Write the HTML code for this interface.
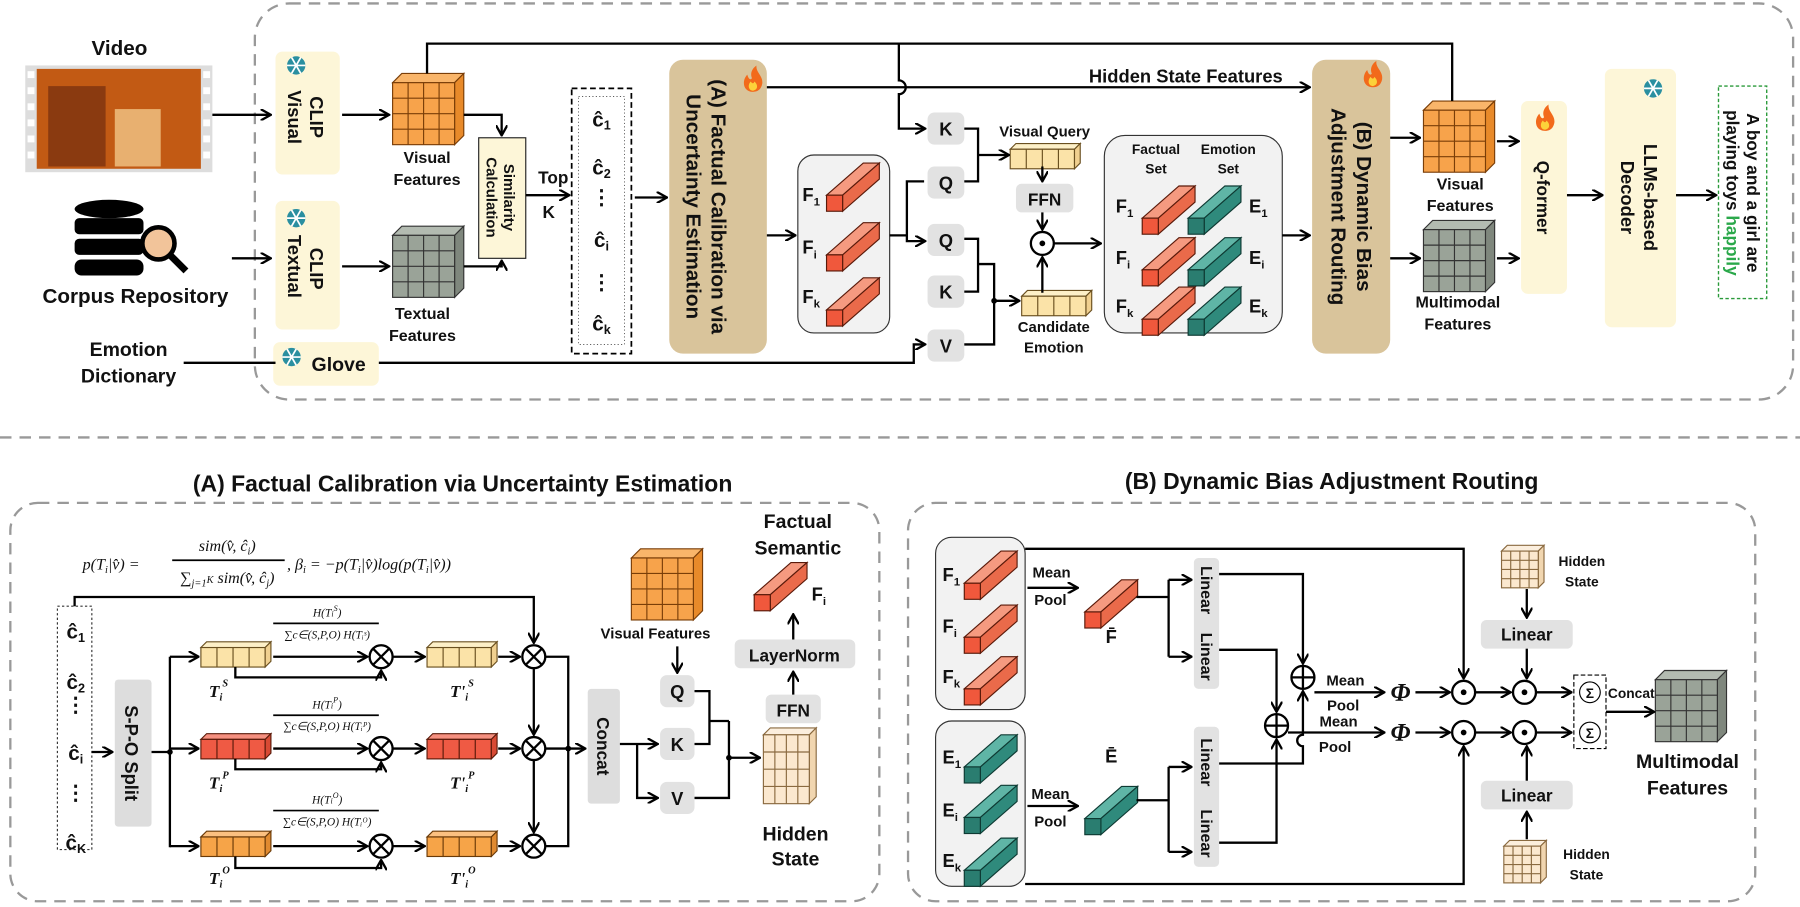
<!DOCTYPE html>
<html><head><meta charset="utf-8"><style>
html,body{margin:0;padding:0;background:#fff;}
svg{display:block;}
text{font-family:"Liberation Sans",sans-serif;font-weight:bold;fill:#111;}
.s{font-family:"Liberation Serif",serif;font-style:italic;font-weight:normal;}
</style></head><body>
<svg width="1800" height="907" viewBox="0 0 1568 790" preserveAspectRatio="none" xmlns="http://www.w3.org/2000/svg">
<defs>
<marker id="a" markerWidth="10" markerHeight="10" refX="8" refY="5" orient="auto" markerUnits="userSpaceOnUse"><path d="M0,0 L9,5 L0,10" fill="none" stroke="#000" stroke-width="2"/></marker>
<g id="cubeO"><polygon points="0,0 8,-8 62,-8 54,0" fill="#f9b56a" stroke="#7a3e08"/><polygon points="54,0 62,-8 62,46 54,54" fill="#e88a2a" stroke="#7a3e08"/><rect x="0" y="0" width="54" height="54" fill="#f7a34b" stroke="#7a3e08"/><path d="M13.5,0V54M27,0V54M40.5,0V54M0,13.5H54M0,27H54M0,40.5H54" stroke="#7a3e08"/></g>
<g id="cubeG"><polygon points="0,0 8,-8 62,-8 54,0" fill="#b3bbb1" stroke="#333"/><polygon points="54,0 62,-8 62,46 54,54" fill="#7f877d" stroke="#333"/><rect x="0" y="0" width="54" height="54" fill="#9aa398" stroke="#333"/><path d="M13.5,0V54M27,0V54M40.5,0V54M0,13.5H54M0,27H54M0,40.5H54" stroke="#333"/></g>
<g id="cubeB"><polygon points="0,0 6,-6 46,-6 40,0" fill="#fbeedd" stroke="#8a6a40"/><polygon points="40,0 46,-6 46,54 40,60" fill="#f1d6b0" stroke="#8a6a40"/><rect x="0" y="0" width="40" height="60" fill="#fbe8cf" stroke="#8a6a40"/><path d="M10,0V60M20,0V60M30,0V60M0,15H40M0,30H40M0,45H40" stroke="#8a6a40"/></g>
<g id="cubeS"><polygon points="0,0 5,-5 37,-5 32,0" fill="#fbeedd" stroke="#8a6a40"/><polygon points="32,0 37,-5 37,27 32,32" fill="#f1d6b0" stroke="#8a6a40"/><rect x="0" y="0" width="32" height="32" fill="#fbe8cf" stroke="#8a6a40"/><path d="M8,0V32M16,0V32M24,0V32M0,8H32M0,16H32M0,24H32" stroke="#8a6a40"/></g>
<g id="barR"><polygon points="0,0 32,-28 46,-28 14,0" fill="#f59a80" stroke="#5a1a0a"/><polygon points="14,0 46,-28 46,-14 14,14" fill="#ea6a4a" stroke="#5a1a0a"/><rect x="0" y="0" width="14" height="14" fill="#f0583c" stroke="#5a1a0a"/></g>
<g id="barT"><polygon points="0,0 32,-28 46,-28 14,0" fill="#5fb5a6" stroke="#0e3a33"/><polygon points="14,0 46,-28 46,-14 14,14" fill="#2f8a7c" stroke="#0e3a33"/><rect x="0" y="0" width="14" height="14" fill="#2a7d70" stroke="#0e3a33"/></g>
<g id="fY"><polygon points="0,0 5,-5 61,-5 56,0" fill="#fdf0c8" stroke="#6a5020"/><rect x="0" y="0" width="56" height="17" fill="#fbe3a8" stroke="#6a5020"/><path d="M14,0V17M28,0V17M42,0V17" stroke="#6a5020"/><polygon points="56,0 61,-5 61,12 56,17" fill="#f0d090" stroke="#6a5020"/></g>
<g id="fR"><polygon points="0,0 5,-5 61,-5 56,0" fill="#f59080" stroke="#5a1a0a"/><rect x="0" y="0" width="56" height="17" fill="#ef5a44" stroke="#5a1a0a"/><path d="M14,0V17M28,0V17M42,0V17" stroke="#5a1a0a"/><polygon points="56,0 61,-5 61,12 56,17" fill="#d84a34" stroke="#5a1a0a"/></g>
<g id="fO"><polygon points="0,0 5,-5 61,-5 56,0" fill="#fbc080" stroke="#6a3a08"/><rect x="0" y="0" width="56" height="17" fill="#f6a448" stroke="#6a3a08"/><path d="M14,0V17M28,0V17M42,0V17" stroke="#6a3a08"/><polygon points="56,0 61,-5 61,12 56,17" fill="#e08a30" stroke="#6a3a08"/></g>
<g id="ot"><circle r="10" fill="#fff" stroke="#000" stroke-width="2"/><path d="M-7,-7L7,7M7,-7L-7,7" stroke="#000" stroke-width="2"/></g>
<g id="op"><circle r="10" fill="#fff" stroke="#000" stroke-width="2"/><path d="M-10,0H10M0,-10V10" stroke="#000" stroke-width="2"/></g>
<g id="od"><circle r="10" fill="#fff" stroke="#000" stroke-width="2"/><circle r="2.5" fill="#000"/></g>
<g id="snow"><circle r="8" fill="#2a8fa0"/><path d="M-8,0H8M-4,-7L4,7M4,-7L-4,7" stroke="#fff" stroke-width="1.5"/></g>
<g id="fire"><path d="M0,10 C-9,10 -10,0 -5,-5 C-4,-1 -2,0 -1,-2 C-3,-7 0,-11 3,-13 C2,-7 9,-4 8,3 C7,8 4,10 0,10Z" fill="#f26a1b"/><path d="M0,9 C-4,9 -5,4 -2,1 C-1,3 1,3 1,1 C4,3 5,8 0,9Z" fill="#fcd23a"/></g>
</defs>
<g fill="none" stroke="#999" stroke-width="2" stroke-dasharray="10,7">
<rect x="222" y="3" width="1340" height="345" rx="30"/>
<path d="M0,381H1568"/>
<rect x="9" y="438" width="757" height="347" rx="24"/>
<rect x="791" y="438" width="738" height="347" rx="24"/>
</g>
<text x="403" y="428" font-size="20" text-anchor="middle">(A) Factual Calibration via Uncertainty Estimation</text>
<text x="1160" y="426" font-size="20" text-anchor="middle">(B) Dynamic Bias Adjustment Routing</text>

<!-- TOP -->
<text x="104" y="48" font-size="18" text-anchor="middle">Video</text>
<rect x="22" y="57" width="163" height="93" fill="#ddd"/>
<rect x="32" y="60" width="143" height="87" fill="#c25a14"/>
<rect x="42" y="75" width="50" height="70" fill="#8a3a10"/><rect x="100" y="95" width="40" height="50" fill="#e8b070"/>
<g fill="#fff"><rect x="24" y="62" width="6" height="6"/><rect x="24" y="76" width="6" height="6"/><rect x="24" y="90" width="6" height="6"/><rect x="24" y="104" width="6" height="6"/><rect x="24" y="118" width="6" height="6"/><rect x="24" y="132" width="6" height="6"/><rect x="177" y="62" width="6" height="6"/><rect x="177" y="76" width="6" height="6"/><rect x="177" y="90" width="6" height="6"/><rect x="177" y="104" width="6" height="6"/><rect x="177" y="118" width="6" height="6"/><rect x="177" y="132" width="6" height="6"/></g>
<g fill="#000"><ellipse cx="95" cy="182" rx="30" ry="8"/><rect x="65" y="190" width="60" height="14" rx="4"/><rect x="65" y="208" width="60" height="14" rx="4"/><rect x="65" y="226" width="60" height="14" rx="6"/></g>
<circle cx="138" cy="212" r="14" fill="#f2c49a" stroke="#000" stroke-width="4"/><path d="M148,222L162,236" stroke="#000" stroke-width="6"/>
<text x="118" y="264" font-size="18" text-anchor="middle">Corpus Repository</text>
<text x="112" y="310" font-size="17" text-anchor="middle">Emotion</text>
<text x="112" y="333" font-size="17" text-anchor="middle">Dictionary</text>

<g fill="#fdf6d8"><rect x="240" y="45" width="56" height="107" rx="6"/><rect x="240" y="175" width="56" height="112" rx="6"/><rect x="238" y="298" width="92" height="38" rx="6"/><rect x="1325" y="88" width="40" height="168" rx="6"/><rect x="1398" y="60" width="62" height="225" rx="6"/></g>
<use href="#snow" x="258" y="57"/><use href="#snow" x="258" y="190"/><use href="#snow" x="254" y="311"/><use href="#snow" x="1440" y="77"/>
<text transform="translate(270,102) rotate(90)" font-size="16" text-anchor="middle">CLIP</text>
<text transform="translate(251,102) rotate(90)" font-size="16" text-anchor="middle">Visual</text>
<text transform="translate(270,234) rotate(90)" font-size="16" text-anchor="middle">CLIP</text>
<text transform="translate(251,232) rotate(90)" font-size="16" text-anchor="middle">Textual</text>
<text x="295" y="323" font-size="17" text-anchor="middle">Glove</text>

<use href="#cubeO" x="342" y="72"/>
<text x="372" y="142" font-size="14" text-anchor="middle">Visual</text><text x="372" y="161" font-size="14" text-anchor="middle">Features</text>
<use href="#cubeG" x="342" y="205"/>
<text x="368" y="278" font-size="14" text-anchor="middle">Textual</text><text x="368" y="297" font-size="14" text-anchor="middle">Features</text>
<rect x="417" y="120" width="41" height="105" fill="#fdf6d8" stroke="#222"/>
<text transform="translate(439,172) rotate(90)" font-size="13" text-anchor="middle">Similarity</text>
<text transform="translate(424,172) rotate(90)" font-size="13" text-anchor="middle">Calculation</text>
<text x="482" y="160" font-size="15" text-anchor="middle">Top</text><text x="478" y="190" font-size="15" text-anchor="middle">K</text>
<rect x="498" y="77" width="52" height="231" fill="none" stroke="#000" stroke-width="1.5" stroke-dasharray="5,3"/>
<rect x="504" y="84" width="40" height="216" fill="none" stroke="#444" stroke-width="0.7" stroke-dasharray="1,2"/>
<g font-size="18" text-anchor="middle"><text x="524" y="110">ĉ<tspan font-size="11" dy="3">1</tspan></text><text x="524" y="152">ĉ<tspan font-size="11" dy="3">2</tspan></text><text x="524" y="178">⋮</text><text x="524" y="215">ĉ<tspan font-size="11" dy="3">i</tspan></text><text x="524" y="252">⋮</text><text x="524" y="288">ĉ<tspan font-size="11" dy="3">k</tspan></text></g>

<g fill="#d9c49b"><rect x="583" y="52" width="85" height="256" rx="12"/><rect x="1143" y="52" width="68" height="256" rx="12"/></g>
<use href="#fire" x="656" y="70"/><use href="#fire" x="1196" y="66"/><use href="#fire" x="1346" y="104"/>
<text transform="translate(620,180) rotate(90)" font-size="18" text-anchor="middle">(A) Factual Calibration via</text>
<text transform="translate(598,180) rotate(90)" font-size="18" text-anchor="middle">Uncertainty Estimation</text>
<text transform="translate(1182,180) rotate(90)" font-size="18" text-anchor="middle">(B) Dynamic Bias</text>
<text transform="translate(1160,180) rotate(90)" font-size="18" text-anchor="middle">Adjustment Routing</text>
<text transform="translate(1339,172) rotate(90)" font-size="15" text-anchor="middle">Q-former</text>
<text transform="translate(1432,172) rotate(90)" font-size="16" text-anchor="middle">LLMs-based</text>
<text transform="translate(1412,172) rotate(90)" font-size="16" text-anchor="middle">Decoder</text>
<rect x="1497" y="75" width="42" height="185" fill="none" stroke="#2a9a3a" stroke-width="1.2" stroke-dasharray="3,2"/>
<text transform="translate(1522,168) rotate(90)" font-size="15" text-anchor="middle">A boy and a girl are</text>
<text transform="translate(1504,168) rotate(90)" font-size="15" text-anchor="middle">playing toys <tspan fill="#2aa84a">happily</tspan></text>

<rect x="695" y="135" width="80" height="155" rx="14" fill="#f2f2f2" stroke="#333"/>
<use href="#barR" x="720" y="170"/><use href="#barR" x="720" y="222"/><use href="#barR" x="720" y="270"/>
<g font-size="16"><text x="699" y="175">F<tspan font-size="10" dy="4">1</tspan></text><text x="699" y="221">F<tspan font-size="10" dy="4">i</tspan></text><text x="699" y="264">F<tspan font-size="10" dy="4">k</tspan></text></g>

<g fill="#e2e2e2"><rect x="808" y="98" width="32" height="28" rx="6"/><rect x="808" y="145" width="32" height="28" rx="6"/><rect x="808" y="195" width="32" height="28" rx="6"/><rect x="808" y="240" width="32" height="28" rx="6"/><rect x="808" y="287" width="32" height="28" rx="6"/><rect x="885" y="160" width="50" height="25" rx="5"/></g>
<g font-size="16" text-anchor="middle"><text x="824" y="118">K</text><text x="824" y="165">Q</text><text x="824" y="215">Q</text><text x="824" y="260">K</text><text x="824" y="307">V</text><text x="910" y="179" font-size="15">FFN</text></g>
<text x="910" y="119" font-size="13" text-anchor="middle">Visual Query</text>
<use href="#fY" x="880" y="130"/>
<use href="#fY" x="890" y="258"/>
<text x="918" y="289" font-size="13" text-anchor="middle">Candidate</text><text x="918" y="307" font-size="13" text-anchor="middle">Emotion</text>
<use href="#od" x="908" y="212"/>

<rect x="962" y="118" width="155" height="172" rx="18" fill="#f2f2f2" stroke="#333"/>
<text x="1007" y="134" font-size="12" text-anchor="middle">Factual</text><text x="1007" y="151" font-size="12" text-anchor="middle">Set</text>
<text x="1070" y="134" font-size="12" text-anchor="middle">Emotion</text><text x="1070" y="151" font-size="12" text-anchor="middle">Set</text>
<use href="#barR" x="995" y="190"/><use href="#barT" x="1035" y="190"/><use href="#barR" x="995" y="235"/><use href="#barT" x="1035" y="235"/><use href="#barR" x="995" y="278"/><use href="#barT" x="1035" y="278"/>
<g font-size="16"><text x="972" y="185">F<tspan font-size="10" dy="4">1</tspan></text><text x="972" y="230">F<tspan font-size="10" dy="4">i</tspan></text><text x="972" y="272">F<tspan font-size="10" dy="4">k</tspan></text><text x="1088" y="185">E<tspan font-size="10" dy="4">1</tspan></text><text x="1088" y="230">E<tspan font-size="10" dy="4">i</tspan></text><text x="1088" y="272">E<tspan font-size="10" dy="4">k</tspan></text></g>

<use href="#cubeO" x="1240" y="96"/>
<text x="1272" y="165" font-size="14" text-anchor="middle">Visual</text><text x="1272" y="184" font-size="14" text-anchor="middle">Features</text>
<use href="#cubeG" x="1240" y="200"/>
<text x="1270" y="268" font-size="14" text-anchor="middle">Multimodal</text><text x="1270" y="287" font-size="14" text-anchor="middle">Features</text>
<text x="1033" y="72" font-size="16" text-anchor="middle">Hidden State Features</text>

<g fill="none" stroke="#000" stroke-width="2">
<path d="M185,100H235" marker-end="url(#a)"/><path d="M202,225H235" marker-end="url(#a)"/><path d="M160,316H240"/>
<path d="M298,100H338" marker-end="url(#a)"/><path d="M298,232H338" marker-end="url(#a)"/>
<path d="M404,100H437V117" marker-end="url(#a)"/><path d="M404,232H437V228" marker-end="url(#a)"/>
<path d="M458,170H495" marker-end="url(#a)"/><path d="M553,172H580" marker-end="url(#a)"/>
<path d="M372,64V38H1265V88"/><path d="M783,38V70 a6,6 0 0 1 0,12 V112H805" marker-end="url(#a)"/>
<path d="M668,76H1140" marker-end="url(#a)"/>
<path d="M668,205H692" marker-end="url(#a)"/>
<path d="M775,205H790V158H805M790,205V210H805" marker-end="url(#a)"/>
<path d="M840,112H852V158H840M852,135H878" marker-end="url(#a)"/>
<path d="M908,145V157" marker-end="url(#a)"/><path d="M908,185V199" marker-end="url(#a)"/>
<path d="M908,255V225" marker-end="url(#a)"/>
<path d="M840,208H852V230M840,254H852V230M852,230H866V262M840,300H866V262M866,262H887" marker-end="url(#a)"/>
<path d="M330,316H796V300H805" marker-end="url(#a)"/>
<path d="M918,212H958" marker-end="url(#a)"/><path d="M1117,205H1140" marker-end="url(#a)"/>
<path d="M1211,120H1236" marker-end="url(#a)"/><path d="M1211,225H1236" marker-end="url(#a)"/>
<path d="M1304,123H1322" marker-end="url(#a)"/><path d="M1304,225H1322" marker-end="url(#a)"/>
<path d="M1365,170H1395" marker-end="url(#a)"/><path d="M1460,170H1494" marker-end="url(#a)"/>
</g>
<circle cx="866" cy="262" r="2.5"/>

<!-- BOTTOM A -->
<text class="s" x="72" y="496" font-size="14">p(T<tspan font-size="9" dy="3">i</tspan><tspan dy="-3">|v̂) =</tspan></text>
<text class="s" x="198" y="480" font-size="14" text-anchor="middle">sim(v̂, ĉ<tspan font-size="9" dy="3">i</tspan><tspan dy="-3">)</tspan></text>
<path d="M150,488H248" stroke="#000" stroke-width="1.5"/>
<text class="s" x="198" y="508" font-size="14" text-anchor="middle">∑<tspan font-size="9" dy="3">j=1</tspan><tspan dy="-3" font-size="9">K</tspan> sim(v̂, ĉ<tspan font-size="9" dy="3">j</tspan><tspan dy="-3">)</tspan></text>
<text class="s" x="250" y="496" font-size="14">, β<tspan font-size="9" dy="3">i</tspan><tspan dy="-3"> = −p(T</tspan><tspan font-size="9" dy="3">i</tspan><tspan dy="-3">|v̂)log(p(T</tspan><tspan font-size="9" dy="3">i</tspan><tspan dy="-3">|v̂))</tspan></text>
<rect x="50" y="528" width="30" height="212" fill="none" stroke="#333" stroke-dasharray="2,2"/>
<g font-size="18" text-anchor="middle"><text x="66" y="556">ĉ<tspan font-size="11" dy="3">1</tspan></text><text x="66" y="600">ĉ<tspan font-size="11" dy="3">2</tspan></text><text x="66" y="620">⋮</text><text x="66" y="662">ĉ<tspan font-size="11" dy="3">i</tspan></text><text x="66" y="697">⋮</text><text x="66" y="740">ĉ<tspan font-size="11" dy="3">K</tspan></text></g>
<rect x="100" y="592" width="32" height="128" rx="3" fill="#ddd"/>
<text transform="translate(109,656) rotate(90)" font-size="16" text-anchor="middle">S-P-O Split</text>
<use href="#fY" x="175" y="564"/><use href="#fR" x="175" y="644"/><use href="#fO" x="175" y="729"/>
<use href="#fY" x="372" y="564"/><use href="#fR" x="372" y="644"/><use href="#fO" x="372" y="729"/>
<g class="s" font-size="15"><text x="182" y="607" class="s" style="font-weight:bold">T<tspan font-size="9" dy="3">i</tspan><tspan font-size="9" dy="-12">S</tspan></text><text x="182" y="687" class="s" style="font-weight:bold">T<tspan font-size="9" dy="3">i</tspan><tspan font-size="9" dy="-12">P</tspan></text><text x="182" y="770" class="s" style="font-weight:bold">T<tspan font-size="9" dy="3">i</tspan><tspan font-size="9" dy="-12">O</tspan></text>
<text x="392" y="607" class="s" style="font-weight:bold">T'<tspan font-size="9" dy="3">i</tspan><tspan font-size="9" dy="-12">S</tspan></text><text x="392" y="687" class="s" style="font-weight:bold">T'<tspan font-size="9" dy="3">i</tspan><tspan font-size="9" dy="-12">P</tspan></text><text x="392" y="770" class="s" style="font-weight:bold">T'<tspan font-size="9" dy="3">i</tspan><tspan font-size="9" dy="-12">O</tspan></text></g>
<g font-size="10" text-anchor="middle"><text class="s" x="285" y="537">H(T<tspan font-size="7">i</tspan><tspan font-size="7" dy="-5">S</tspan><tspan dy="5">)</tspan></text><text class="s" x="285" y="556">∑c∈(S,P,O) H(Tᵢˢ)</text>
<text class="s" x="285" y="617">H(T<tspan font-size="7">i</tspan><tspan font-size="7" dy="-5">P</tspan><tspan dy="5">)</tspan></text><text class="s" x="285" y="636">∑c∈(S,P,O) H(Tᵢᴾ)</text>
<text class="s" x="285" y="700">H(T<tspan font-size="7">i</tspan><tspan font-size="7" dy="-5">O</tspan><tspan dy="5">)</tspan></text><text class="s" x="285" y="719">∑c∈(S,P,O) H(Tᵢᴼ)</text></g>
<g stroke="#000" stroke-width="1.5"><path d="M238,543H330"/><path d="M238,623H330"/><path d="M238,706H330"/></g>
<use href="#ot" x="332" y="572"/><use href="#ot" x="332" y="652"/><use href="#ot" x="332" y="737"/>
<use href="#ot" x="465" y="572"/><use href="#ot" x="465" y="652"/><use href="#ot" x="465" y="737"/>
<rect x="512" y="600" width="28" height="100" rx="3" fill="#ddd"/>
<text transform="translate(520,650) rotate(90)" font-size="15" text-anchor="middle">Concat</text>
<use href="#cubeO" x="550" y="486"/>
<text x="571" y="556" font-size="13" text-anchor="middle">Visual Features</text>
<g fill="#e2e2e2"><rect x="575" y="588" width="30" height="28" rx="6"/><rect x="575" y="634" width="30" height="28" rx="6"/><rect x="575" y="681" width="30" height="28" rx="6"/><rect x="667" y="605" width="48" height="25" rx="5"/><rect x="640" y="557" width="105" height="25" rx="5"/></g>
<g font-size="16" text-anchor="middle"><text x="590" y="608">Q</text><text x="590" y="654">K</text><text x="590" y="701">V</text><text x="691" y="624" font-size="15">FFN</text><text x="692" y="576" font-size="15">LayerNorm</text></g>
<use href="#cubeB" x="665" y="640"/>
<text x="693" y="732" font-size="17" text-anchor="middle">Hidden</text><text x="693" y="754" font-size="17" text-anchor="middle">State</text>
<use href="#barR" x="657" y="518"/>
<text x="707" y="523" font-size="16">F<tspan font-size="10" dy="4">i</tspan></text>
<text x="695" y="460" font-size="17" text-anchor="middle">Factual</text><text x="695" y="483" font-size="17" text-anchor="middle">Semantic</text>
<g fill="none" stroke="#000" stroke-width="2">
<path d="M65,528V520H465V559" marker-end="url(#a)"/>
<path d="M80,655H97" marker-end="url(#a)"/>
<path d="M132,655H148M148,572V738M148,652H172" marker-end="url(#a)"/>
<path d="M148,572H172" marker-end="url(#a)"/><path d="M148,737H172" marker-end="url(#a)"/>
<path d="M238,572H319" marker-end="url(#a)"/><path d="M238,652H319" marker-end="url(#a)"/><path d="M238,737H319" marker-end="url(#a)"/>
<path d="M205,581V590H332V585" marker-end="url(#a)"/><path d="M205,661V670H332V665" marker-end="url(#a)"/><path d="M205,746V756H332V750" marker-end="url(#a)"/>
<path d="M342,572H369" marker-end="url(#a)"/><path d="M342,652H369" marker-end="url(#a)"/><path d="M342,737H369" marker-end="url(#a)"/>
<path d="M434,572H452" marker-end="url(#a)"/><path d="M434,652H452" marker-end="url(#a)"/><path d="M434,737H452" marker-end="url(#a)"/>
<path d="M465,582V639" marker-end="url(#a)"/><path d="M465,662V724" marker-end="url(#a)"/>
<path d="M475,572H495V737H475M475,652H509" marker-end="url(#a)"/>
<path d="M540,648H572" marker-end="url(#a)"/><path d="M555,648V695H572" marker-end="url(#a)"/>
<path d="M590,563V585" marker-end="url(#a)"/>
<path d="M605,602H618V628H635M605,648H618V628M635,628V660M605,695H635V660M635,660H661" marker-end="url(#a)"/>
<path d="M691,605V586" marker-end="url(#a)"/><path d="M691,557V536" marker-end="url(#a)"/>
</g>
<circle cx="635" cy="660" r="2.5"/><circle cx="148" cy="655" r="2.5"/><circle cx="495" cy="652" r="2.5"/>

<!-- BOTTOM B -->
<rect x="815" y="468" width="78" height="150" rx="14" fill="#f2f2f2" stroke="#333"/>
<rect x="815" y="628" width="78" height="144" rx="14" fill="#f2f2f2" stroke="#333"/>
<use href="#barR" x="840" y="508"/><use href="#barR" x="840" y="555"/><use href="#barR" x="840" y="600"/>
<use href="#barT" x="840" y="668"/><use href="#barT" x="840" y="712"/><use href="#barT" x="840" y="758"/>
<g font-size="16"><text x="821" y="506">F<tspan font-size="10" dy="4">1</tspan></text><text x="821" y="551">F<tspan font-size="10" dy="4">i</tspan></text><text x="821" y="595">F<tspan font-size="10" dy="4">k</tspan></text><text x="821" y="665">E<tspan font-size="10" dy="4">1</tspan></text><text x="821" y="711">E<tspan font-size="10" dy="4">i</tspan></text><text x="821" y="755">E<tspan font-size="10" dy="4">k</tspan></text></g>
<use href="#barR" x="945" y="533"/><use href="#barT" x="945" y="713"/>
<text x="968" y="560" font-size="16" text-anchor="middle">F̄</text><text x="968" y="664" font-size="16" text-anchor="middle">Ē</text>
<g font-size="13" text-anchor="middle"><text x="916" y="503">Mean</text><text x="915" y="527">Pool</text><text x="915" y="696">Mean</text><text x="915" y="720">Pool</text><text x="1172" y="597">Mean</text><text x="1170" y="619">Pool</text><text x="1166" y="633">Mean</text><text x="1163" y="655">Pool</text></g>
<g fill="#e2e2e2"><rect x="1040" y="486" width="22" height="114" rx="4"/><rect x="1040" y="633" width="22" height="122" rx="4"/><rect x="1290" y="540" width="80" height="25" rx="5"/><rect x="1290" y="680" width="80" height="25" rx="5"/></g>
<g font-size="14" text-anchor="middle"><text transform="translate(1046,514) rotate(90)">Linear</text><text transform="translate(1046,572) rotate(90)">Linear</text><text transform="translate(1046,664) rotate(90)">Linear</text><text transform="translate(1046,726) rotate(90)">Linear</text><text x="1330" y="558" font-size="15">Linear</text><text x="1330" y="698" font-size="15">Linear</text></g>
<use href="#op" x="1135" y="590"/><use href="#op" x="1112" y="632"/>
<text x="1220" y="610" font-size="22" text-anchor="middle" class="s" style="font-weight:bold">Φ</text>
<text x="1220" y="645" font-size="22" text-anchor="middle" class="s" style="font-weight:bold">Φ</text>
<use href="#od" x="1275" y="603"/><use href="#od" x="1275" y="638"/><use href="#od" x="1328" y="603"/><use href="#od" x="1328" y="638"/>
<rect x="1371" y="588" width="28" height="64" fill="none" stroke="#000" stroke-dasharray="4,2"/>
<circle cx="1385" cy="603" r="9" fill="none" stroke="#000"/><circle cx="1385" cy="638" r="9" fill="none" stroke="#000"/>
<text x="1385" y="608" font-size="12" text-anchor="middle">Σ</text><text x="1385" y="643" font-size="12" text-anchor="middle">Σ</text>
<text x="1421" y="608" font-size="12" text-anchor="middle">Concat</text>
<use href="#cubeG" x="1442" y="592"/>
<text x="1470" y="669" font-size="17" text-anchor="middle">Multimodal</text><text x="1470" y="692" font-size="17" text-anchor="middle">Features</text>
<use href="#cubeS" x="1308" y="480"/>
<use href="#cubeS" x="1310" y="737"/>
<text x="1378" y="493" font-size="12" text-anchor="middle">Hidden</text><text x="1378" y="511" font-size="12" text-anchor="middle">State</text>
<text x="1382" y="748" font-size="12" text-anchor="middle">Hidden</text><text x="1382" y="766" font-size="12" text-anchor="middle">State</text>
<g fill="none" stroke="#000" stroke-width="2">
<path d="M895,512H938" marker-end="url(#a)"/><path d="M895,702H938" marker-end="url(#a)"/>
<path d="M990,520H1018M1018,505V572M1018,505H1037" marker-end="url(#a)"/><path d="M1018,572H1037" marker-end="url(#a)"/>
<path d="M990,697H1018M1018,668V742M1018,668H1037" marker-end="url(#a)"/><path d="M1018,742H1037" marker-end="url(#a)"/>
<path d="M1062,500H1135V577" marker-end="url(#a)"/><path d="M1062,566H1112V619" marker-end="url(#a)"/>
<path d="M1062,734H1112V645" marker-end="url(#a)"/><path d="M1062,665H1135V650a5,5 0 0 1 0,-10V603" marker-end="url(#a)"/>
<path d="M1145,603H1205" marker-end="url(#a)"/><path d="M1122,638H1205" marker-end="url(#a)"/>
<path d="M1233,603H1262" marker-end="url(#a)"/><path d="M1233,638H1262" marker-end="url(#a)"/>
<path d="M1285,603H1315" marker-end="url(#a)"/><path d="M1285,638H1315" marker-end="url(#a)"/>
<path d="M1338,603H1368" marker-end="url(#a)"/><path d="M1338,638H1368" marker-end="url(#a)"/>
<path d="M1399,620H1440" marker-end="url(#a)"/>
<path d="M893,478H1275V590" marker-end="url(#a)"/><path d="M893,770H1275V651" marker-end="url(#a)"/>
<path d="M1330,513V537" marker-end="url(#a)"/><path d="M1330,565V590" marker-end="url(#a)"/>
<path d="M1330,680V651" marker-end="url(#a)"/><path d="M1330,731V708" marker-end="url(#a)"/>
</g>
</svg>
</body></html>
